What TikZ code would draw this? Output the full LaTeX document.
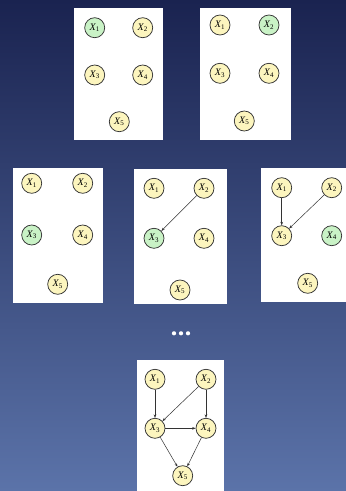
\documentclass[tikz,border=0pt]{standalone}
\usepackage{fontspec}
\setmainfont{Liberation Serif}
\usetikzlibrary{arrows.meta}
\definecolor{bgtop}{HTML}{1A2350}
\definecolor{bgbot}{HTML}{5B73A9}
\definecolor{nyel}{HTML}{FCF5BE}
\definecolor{ngrn}{HTML}{C9F2C6}
\newcommand{\xv}[1]{\textit{X}\kern-0.3pt\textsubscript{#1}}
\begin{document}
\begin{tikzpicture}[x=1pt,y=-1pt,
  var/.style={circle,draw=black!80,line width=0.75pt,fill=nyel,minimum size=20pt,inner sep=0pt,font=\fontsize{10}{11}\selectfont},
  obs/.style={var,fill=ngrn},
  panel/.style={fill=white,draw=none},
  dot/.style={circle,fill=white,inner sep=0pt,minimum size=4.2pt},
  arr/.style={-{Stealth[length=3.5pt,width=2.6pt]},line width=0.5pt,black!80}]
\shade[top color=bgtop,bottom color=bgbot] (0,0) rectangle (346,491);
\useasboundingbox (0,0) rectangle (346,491);
% panel 1
\fill[panel] (74,8) rectangle (163,140);
\node[obs] (a1) at (94.7,27.7) {\xv{1}};
\node[var] (a2) at (142.7,27.7) {\xv{2}};
\node[var] (a3) at (94.7,75) {\xv{3}};
\node[var] (a4) at (142.7,75) {\xv{4}};
\node[var] (a5) at (119.3,121.7) {\xv{5}};
% panel 2
\fill[panel] (200,8) rectangle (291,140);
\node[var] (b1) at (220,25) {\xv{1}};
\node[obs] (b2) at (269,25) {\xv{2}};
\node[var] (b3) at (220,73.3) {\xv{3}};
\node[var] (b4) at (269,73.3) {\xv{4}};
\node[var] (b5) at (244.3,121) {\xv{5}};
% panel 3
\fill[panel] (13,168) rectangle (103,303);
\node[var] (c1) at (31.7,183.3) {\xv{1}};
\node[var] (c2) at (82.7,183.3) {\xv{2}};
\node[obs] (c3) at (31.7,235) {\xv{3}};
\node[var] (c4) at (82.7,235) {\xv{4}};
\node[var] (c5) at (57.7,284.3) {\xv{5}};
% panel 4
\fill[panel] (134,169) rectangle (227,304);
\node[var] (d1) at (154,188.3) {\xv{1}};
\node[var] (d2) at (204,188.3) {\xv{2}};
\node[obs] (d3) at (154,238.3) {\xv{3}};
\node[var] (d4) at (204,238.3) {\xv{4}};
\node[var] (d5) at (180,290) {\xv{5}};
\draw[arr] (d2) -- (d3);
% panel 5
\fill[panel] (261,168) rectangle (346,302);
\node[var] (e1) at (281.7,187.7) {\xv{1}};
\node[var] (e2) at (331.7,187.7) {\xv{2}};
\node[var] (e3) at (281.7,235.7) {\xv{3}};
\node[obs] (e4) at (331.7,235.7) {\xv{4}};
\node[var] (e5) at (307.7,283.3) {\xv{5}};
\draw[arr] (e1) -- (e3);
\draw[arr] (e2) -- (e3);
% dots
\node[dot] (dt1) at (174,333.3) {};
\node[dot] (dt2) at (181,333.3) {};
\node[dot] (dt3) at (188,333.3) {};
% panel 6
\fill[panel] (137,360) rectangle (224,491);
\node[var] (f1) at (155,379.3) {\xv{1}};
\node[var] (f2) at (206,379.3) {\xv{2}};
\node[var] (f3) at (155,428.3) {\xv{3}};
\node[var] (f4) at (206,428.3) {\xv{4}};
\node[var] (f5) at (182.7,475.7) {\xv{5}};
\draw[arr] (f1) -- (f3);
\draw[arr] (f2) -- (f3);
\draw[arr] (f2) -- (f4);
\draw[arr] (f3) -- (f4);
\draw[arr] (f3) -- (f5);
\draw[arr] (f4) -- (f5);
\end{tikzpicture}
\end{document}
